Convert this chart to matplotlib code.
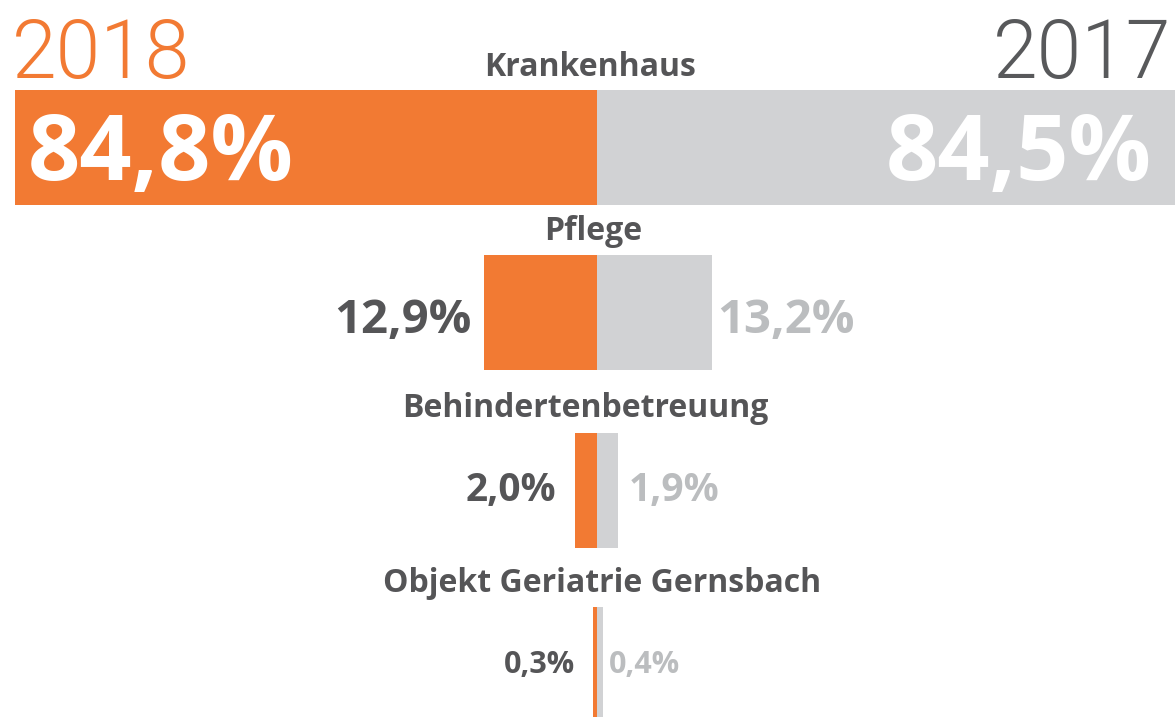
import numpy as np
import matplotlib
matplotlib.use("Agg")
import matplotlib.pyplot as plt

categories = ["Krankenhaus", "Pflege", "Behindertenbetreuung", "Objekt Geriatrie Gernsbach"]
share_2018 = [84.8, 12.9, 2.0, 0.3]
share_2017 = [84.5, 13.2, 1.9, 0.4]
labels_2018 = ["84,8%", "12,9%", "2,0%", "0,3%"]
labels_2017 = ["84,5%", "13,2%", "1,9%", "0,4%"]

ORANGE = "#F27A33"
GREY = "#D1D2D4"
DARK = "#555557"
LIGHT = "#BBBDBF"

W, H = 1175, 717
CENTER = 597
PX_PER_UNIT = 12.23
POWER = 0.87

# rows: bar centre, title baseline, value label baseline, label size (pt), gaps (px)
row_y = [147.5, 312.5, 490.5, 664.5]
title_y = [76, 240, 417, 592]
title_dx = [-7, -4, -12, 5]
value_y = [180, 333, 501, 673]
value_size = [66, 34, 28, 22]
gap_left = [0, 12, 18, 18]
gap_right = [0, 5, 10, 6]
BAR_H = 115


def fwd(x):
    x = np.asarray(x, dtype=float)
    return np.sign(x) * np.abs(x) ** POWER


def inv(x):
    x = np.asarray(x, dtype=float)
    return np.sign(x) * np.abs(x) ** (1 / POWER)


fig = plt.figure(figsize=(W / 100, H / 100), dpi=100)
ax = fig.add_axes([0, 0, 1, 1])
ax.set_xscale("function", functions=(fwd, inv))
ax.set_xlim(float(inv(-CENTER / PX_PER_UNIT)), float(inv((W - CENTER) / PX_PER_UNIT)))
ax.set_ylim(H, 0)
ax.axis("off")

ax.barh(row_y, [-v for v in share_2018], height=BAR_H, color=ORANGE, linewidth=0)
ax.barh(row_y, share_2017, height=BAR_H, color=GREY, linewidth=0)

bold = dict(family="Open Sans", weight="bold")
ytr = ax.get_yaxis_transform()

for i, cat in enumerate(categories):
    ax.annotate(cat, xy=(0, title_y[i]), xytext=(title_dx[i], 0), textcoords="offset pixels",
                ha="center", va="baseline", color=DARK, fontsize=23, **bold)
    if i == 0:
        ax.text(28 / W, value_y[i], labels_2018[i], transform=ytr,
                ha="left", va="baseline", color="white", fontsize=value_size[i], **bold)
        ax.text(1152 / W, value_y[i], labels_2017[i], transform=ytr,
                ha="right", va="baseline", color="white", fontsize=value_size[i], **bold)
    else:
        ax.annotate(labels_2018[i], xy=(-share_2018[i], value_y[i]), xytext=(-gap_left[i], 0),
                    textcoords="offset pixels", ha="right", va="baseline",
                    color=DARK, fontsize=value_size[i], **bold)
        ax.annotate(labels_2017[i], xy=(share_2017[i], value_y[i]), xytext=(gap_right[i], 0),
                    textcoords="offset pixels", ha="left", va="baseline",
                    color=LIGHT, fontsize=value_size[i], **bold)

year_font = dict(family=["Roboto", "Open Sans"], weight=300, fontsize=58)
fig.text(12 / W, 1 - 78 / H, "2018", ha="left", va="baseline", color=ORANGE, **year_font)
fig.text(1171 / W, 1 - 78 / H, "2017", ha="right", va="baseline", color="#58595B", **year_font)

fig.savefig("out.png", dpi=100)
